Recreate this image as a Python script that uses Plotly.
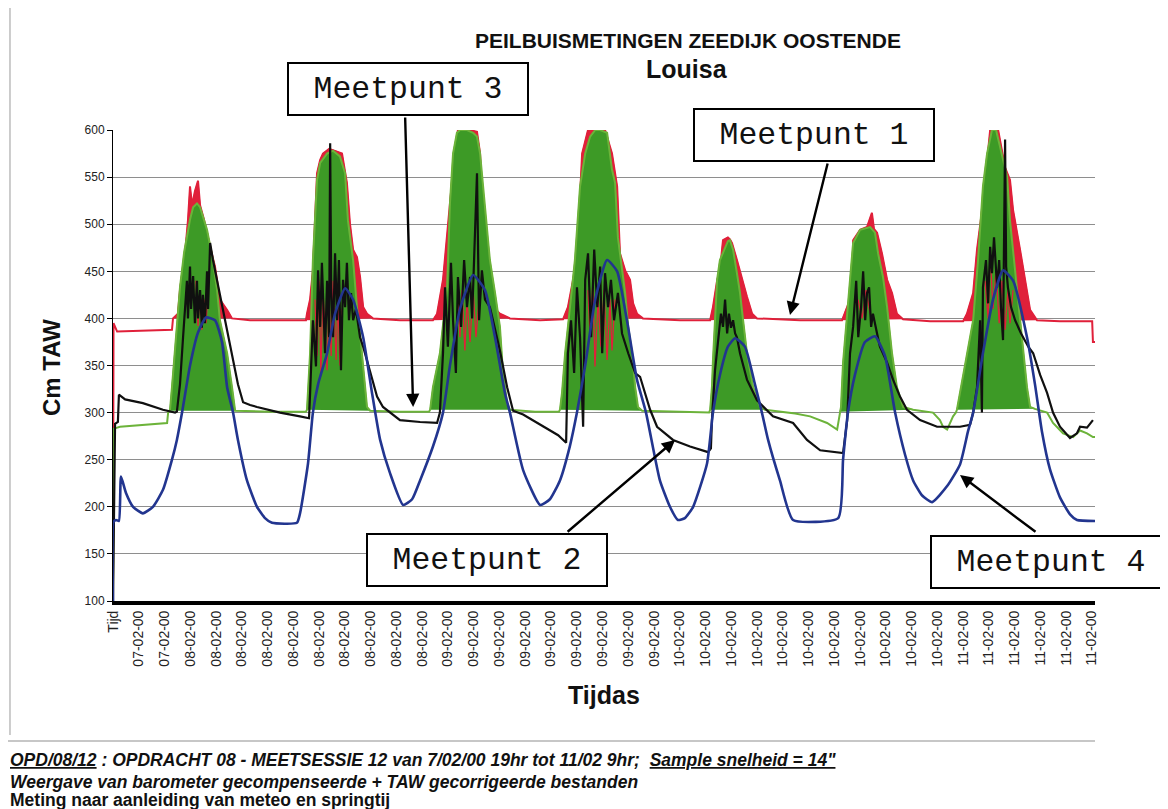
import plotly.graph_objects as go

# ---------------- data ----------------
# x = measurement index: 10 units between two consecutive date labels
TICK_LABELS = (["Tijd"] + ["07-02-00"] * 2 + ["08-02-00"] * 10 + ["09-02-00"] * 9
               + ["10-02-00"] * 11 + ["11-02-00"] * 6)
TICK_STEP = 10
X_MAX = 381.2
Y_TICKS = [100, 150, 200, 250, 300, 350, 400, 450, 500, 550, 600]

# Meetpunt 1 (red)
M1_X = [0.0, 0.2, 1.6, 10.5, 22.9, 23.3, 25.2, 26.0, 26.8, 28.0, 29.1, 29.9, 30.7, 31.8, 33.0, 33.8, 35.3, 36.5,
        37.7, 39.6, 41.5, 44.3, 46.2, 53.2, 64.8, 74.9, 75.3, 76.5, 77.6, 79.2, 80.4, 81.5, 83.9, 86.2, 88.9, 90.8,
        92.0, 93.2, 94.7, 95.9, 97.1, 98.6, 100.9, 111.4, 124.2, 125.8, 128.1, 130.8, 132.8, 133.9, 138.6, 141.3,
        142.5, 143.6, 145.6, 147.5, 150.2, 154.1, 165.8, 174.7, 176.6, 178.6, 180.1, 182.1, 184.4, 191.0, 193.7,
        195.7, 196.8, 198.8, 200.7, 201.9, 203.4, 205.7, 220.1, 231.8, 232.9, 234.5, 235.6, 236.8, 238.7, 239.5,
        240.3, 242.2, 244.6, 246.1, 248.1, 250.0, 266.7, 283.0, 285.0, 286.9, 287.3, 290.0, 292.7, 294.6, 295.4,
        296.6, 298.5, 300.5, 302.4, 304.3, 306.7, 317.2, 330.0, 331.5, 333.9, 335.4, 337.7, 339.7, 340.5, 343.6,
        344.3, 346.3, 348.2, 349.4, 352.1, 354.0, 356.0, 358.7, 367.6, 380.1, 380.4, 381.2]
M1_Y = [100, 395, 386, 387, 388, 400, 405, 430, 448, 470, 504, 540, 520, 535, 546, 520, 505, 490, 476, 455, 420, 409,
        400, 398, 398, 398, 405, 420, 451, 554, 568, 575, 580, 578, 575, 544, 500, 473, 465, 444, 412, 405, 400, 398,
        398, 405, 441, 522, 580, 600, 600, 598, 575, 500, 441, 412, 405, 400, 398, 399, 412, 441, 462, 575, 600, 600,
        575, 540, 469, 451, 441, 416, 405, 400, 398, 398, 412, 440, 451, 483, 486, 484, 480, 462, 437, 423, 405, 400,
        398, 398, 412, 427, 483, 494, 497, 512, 495, 491, 469, 441, 427, 405, 399, 397, 397, 405, 427, 473, 522, 580,
        600, 600, 590, 560, 547, 515, 473, 441, 409, 398, 397, 397, 375, 375]

# Meetpunt 1: low red spikes visible inside the green bands (None = gap)
M1_DIP_X = [32.2, 33.0, 33.8, 34.5, 35.3, 36.1, 36.9, None,
            78.4, 79.2, 80.0, 80.7, 81.5, 82.3, 83.1, 83.9, 84.7, 85.4, 86.6, 87.3, 88.1, 88.9, None,
            133.9, 134.7, 135.5, 136.6, 137.4, 138.6, 139.8, 140.9, 142.1, None,
            184.4, 185.2, 186.3, 187.1, 188.3, 189.4, 190.6, 191.8, 192.9, 193.7, 194.9, None,
            289.2, 290.8, 292.3, 293.9, None,
            338.5, 339.7, 340.5, 341.6, 342.8, 344.0, 345.1, 346.3, 347.4, 348.2, 349.4]
M1_DIP_Y = [440, 392, 430, 388, 420, 395, 430, None,
            420, 360, 440, 340, 430, 385, 345, 420, 360, 440, 356, 420, 350, 410, None,
            420, 380, 430, 366, 420, 375, 430, 380, 420, None,
            430, 380, 440, 349, 420, 370, 430, 356, 420, 366, 420, None,
            420, 400, 430, 405, None,
            440, 400, 470, 410, 450, 395, 440, 388, 430, 395, 430]

# Meetpunt 2 (black)
M2_X = [0.0, 0.8, 1.9, 2.3, 4.7, 11.6, 19.4, 24.1, 24.8,
        26.0, 27.2, 28.0, 28.7, 29.1, 29.9, 30.3, 31.1, 31.8, 32.6, 33.0, 33.8, 34.5, 34.9, 35.7, 36.5, 36.9, 37.7,
        38.8, 40.4, 41.5, 42.7, 44.6, 46.6, 48.5, 50.5, 53.2, 55.9, 64.8, 72.6, 76.1,
        76.5, 77.6, 78.8, 79.6, 80.4, 81.1, 82.3, 83.1, 83.9, 84.3, 84.7, 85.4, 86.2, 87.0, 87.7, 88.5, 89.3, 90.1,
        90.8, 91.6, 92.4, 93.2, 94.3, 95.9, 97.1, 99.8, 102.5, 104.8, 111.4, 119.2, 125.8,
        126.9, 128.1, 128.9, 130.0, 131.2, 132.0, 133.1, 133.9, 135.1, 136.3, 137.4, 138.6, 139.4, 140.1, 141.3,
        142.1, 143.2, 144.4, 146.3, 147.5, 150.2, 153.0, 155.3, 159.2, 163.0, 168.5, 172.8, 175.9,
        176.2, 176.6, 177.8, 179.0, 180.1, 181.3, 182.5, 183.3, 184.4, 185.6, 186.8, 188.0, 189.1, 189.9, 191.0,
        192.2, 193.3, 194.5, 196.0, 197.6, 200.0, 202.7, 204.6, 208.5, 211.2, 217.4, 224.0, 231.0, 232.1,
        232.5, 233.7, 234.9, 236.0, 236.8, 237.6, 238.4, 239.1, 239.9, 240.7, 241.5, 242.2, 243.4, 246.1, 250.0,
        256.2, 264.0, 269.4, 274.5, 283.4,
        285.0, 286.1, 287.3, 288.5, 289.3, 290.4, 291.2, 292.0, 292.7, 293.5, 294.3, 295.0, 296.6, 297.7, 300.5,
        302.8, 305.5, 308.2, 313.3, 319.9, 328.8, 332.7,
        333.9, 335.4, 336.6, 337.3, 337.7, 338.9, 339.7, 340.5, 341.2, 342.0, 343.2, 344.0, 344.7, 345.5, 346.3,
        346.7, 347.4, 348.6, 350.2, 352.5, 355.3, 357.2, 359.9, 362.6, 364.9, 367.6, 371.5, 374.2, 375.4, 378.1, 380.4]
M2_Y = [100, 288, 290, 319, 314, 310, 303, 300, 301,
        330, 380, 410, 440, 400, 455, 410, 445, 395, 440, 400, 430, 390, 425, 395, 450, 410, 480,
        462, 440, 425, 406, 380, 356, 330, 311, 308, 306, 300, 296, 294,
        320, 398, 349, 451, 391, 459, 363, 440, 380, 586, 433, 380, 469, 398, 462, 345, 441, 412,
        459, 398, 427, 398, 410, 380, 370, 342, 317, 306, 292, 290, 289,
        300, 363, 433, 370, 459, 398, 342, 444, 391, 462, 412, 444, 400, 450, 554,
        398, 451, 420, 412, 398, 366, 327, 302, 298, 292, 283, 276, 268,
        300, 363, 398, 342, 433, 380, 285, 441, 469, 380, 473, 412, 455, 363, 448,
        412, 441, 398, 427, 384, 363, 342, 338, 303, 285, 271, 264, 258, 262,
        292, 345, 380, 405, 391, 420, 384, 405, 390, 398, 384, 380, 363, 335, 313,
        296, 289, 271, 260, 257,
        292, 363, 391, 440, 380, 412, 450, 398, 427, 433, 391, 405, 384, 370, 353,
        335, 317, 303, 292, 285, 285, 287,
        300, 327, 398, 300, 433, 462, 416, 476, 448, 486, 433, 462, 412, 377, 590,
        455, 433, 412, 398, 384, 370, 363, 340, 321, 300, 285, 273, 278, 285, 284, 292]

# Meetpunt 3 (green) - base level plus upper edge of the dense tidal band
M3_X = [0.0, 0.4, 2.7, 10.5, 21.0, 21.4, 22.1, 22.9, 24.5, 26.0, 27.6, 28.7, 29.9, 31.1, 32.6, 33.8, 35.3, 36.5,
        38.8, 40.4, 41.5, 44.3, 46.2, 47.4, 60.9, 74.9, 75.3, 76.5, 77.6, 79.2, 80.4, 83.1, 85.4, 88.1, 90.1, 91.2,
        93.2, 94.7, 95.9, 97.1, 98.6, 99.8, 111.4, 122.7, 123.1, 124.2, 126.9, 129.7, 130.8, 132.0, 133.5, 134.7,
        137.4, 139.8, 141.3, 142.5, 143.6, 145.2, 146.3, 148.3, 150.2, 151.4, 153.0, 154.1, 163.8, 173.1, 173.5,
        174.3, 175.5, 177.4, 179.3, 181.3, 183.3, 185.2, 187.2, 189.1, 191.8, 193.7, 194.9, 196.0, 197.6, 198.8,
        200.0, 201.5, 202.7, 203.8, 205.4, 220.1, 231.4, 231.8, 232.5, 232.9, 234.5, 235.6, 237.6, 238.7, 239.5,
        240.7, 242.2, 243.4, 244.6, 246.1, 248.5, 251.2, 253.1, 258.9, 264.8, 270.6, 277.2, 281.1, 282.2, 282.6,
        283.4, 286.1, 287.3, 290.0, 293.9, 295.8, 297.0, 298.9, 300.5, 302.4, 304.3, 306.7, 310.6, 318.3, 321.0,
        322.2, 323.8, 326.1, 327.2, 327.6, 328.8, 331.5, 333.9, 335.8, 337.7, 339.3, 341.2, 342.8, 345.1, 347.1,
        348.2, 350.2, 352.1, 353.3, 354.8, 356.0, 357.9, 362.6, 364.9, 368.8, 372.7, 375.4, 378.1, 380.4, 381.2]
M3_Y = [100, 283, 285, 287, 289, 300, 302, 327, 380, 433, 470, 486, 505, 518, 522, 518, 505, 494, 462, 430, 398, 363,
        327, 302, 301, 301, 303, 363, 462, 547, 565, 575, 578, 572, 554, 504, 462, 412, 384, 348, 306, 302, 301, 301,
        303, 327, 363, 433, 522, 575, 597, 600, 600, 597, 593, 575, 540, 490, 462, 427, 391, 342, 310, 303, 301, 301,
        303, 321, 363, 412, 462, 540, 575, 593, 600, 600, 597, 558, 544, 486, 451, 427, 391, 363, 327, 306, 302, 301,
        300, 303, 327, 356, 441, 462, 476, 482, 483, 473, 448, 427, 398, 363, 327, 306, 303, 301, 299, 296, 289, 282,
        301, 306, 353, 441, 480, 494, 497, 491, 469, 444, 412, 363, 327, 306, 303, 300, 292, 285, 282, 296, 300, 303,
        321, 363, 398, 462, 540, 575, 600, 600, 575, 550, 504, 451, 398, 363, 327, 306, 304, 300, 289, 278, 274, 281,
        278, 274, 274]

# Meetpunt 4 (blue)
M4_X = [0.0, 0.2, 1.2, 2.3, 3.1, 5.0, 7.8, 11.6, 15.5, 19.4, 22.9, 24.8, 26.8, 29.9, 33.0, 36.1, 39.6, 42.3, 44.3,
        46.6, 48.5, 52.0, 55.9, 59.0, 61.7, 71.4, 72.6, 75.7, 77.6, 79.6, 83.1, 86.2, 90.1, 93.2, 97.1, 100.6, 103.7,
        107.5, 112.6, 116.1, 119.2, 124.2, 128.1, 130.8, 134.7, 139.8, 144.4, 148.3, 152.2, 154.1, 159.2, 165.8,
        169.6, 173.5, 177.4, 180.1, 183.3, 187.2, 191.8, 195.7, 199.5, 203.4, 206.9, 212.3, 216.2, 219.3, 222.0,
        225.2, 230.6, 232.9, 235.6, 238.7, 241.5, 245.3, 249.2, 251.9, 254.3, 258.9, 264.0, 281.5, 283.4, 285.3,
        288.0, 291.9, 295.8, 299.7, 303.6, 307.5, 310.6, 314.1, 318.0, 323.8, 328.8, 331.9, 333.9, 337.7, 341.6,
        345.5, 349.4, 354.8, 357.9, 360.6, 363.7, 367.6, 371.5, 374.2, 381.2]
M4_Y = [100, 184, 186, 185, 232, 215, 200, 193, 200, 218, 250, 271, 300, 350, 385, 401, 398, 375, 327, 300, 271, 228,
        200, 188, 183, 183, 193, 246, 300, 330, 363, 405, 432, 420, 380, 320, 271, 236, 202, 208, 228, 264, 300, 350,
        410, 446, 430, 380, 320, 300, 239, 202, 208, 228, 265, 300, 350, 420, 462, 450, 398, 335, 300, 228, 200, 186,
        188, 200, 246, 300, 340, 370, 379, 370, 330, 300, 271, 228, 186, 188, 250, 300, 340, 375, 381, 360, 300, 255,
        228, 212, 205, 222, 245, 280, 300, 363, 420, 451, 440, 380, 330, 280, 240, 210, 192, 186, 185]

RED_LEVEL = 402     # plateau of Meetpunt 1 above which its tide band is filled
GREEN_LEVEL = 304   # base of Meetpunt 3 above which its tide band is filled

RED = "#e0203a"
GREEN_FILL = "#3d9a26"
GREEN_LINE = "#6cb33a"
BLACK = "#101010"
BLUE = "#22358f"


def runs_above(xs, ys, level):
    """Contiguous stretches above a level, with one neighbour point on each side."""
    out, i, n = [], 0, len(ys)
    while i < n:
        if ys[i] > level:
            j = i
            while j + 1 < n and ys[j + 1] > level:
                j += 1
            a, b = max(i - 1, 0), min(j + 1, n - 1)
            out.append((xs[a:b + 1], ys[a:b + 1]))
            i = j + 1
        else:
            i += 1
    return out


fig = go.Figure()

for xs, ys in runs_above(M1_X, M1_Y, RED_LEVEL):
    fig.add_trace(go.Scatter(x=xs, y=ys, mode="lines", fill="toself", fillcolor=RED,
                             line=dict(color=RED, width=1), hoverinfo="skip"))
fig.add_trace(go.Scatter(x=M1_X, y=M1_Y, mode="lines", name="Meetpunt 1",
                         line=dict(color=RED, width=2)))

for xs, ys in runs_above(M3_X, M3_Y, GREEN_LEVEL):
    fig.add_trace(go.Scatter(x=xs, y=ys, mode="lines", fill="toself", fillcolor=GREEN_FILL,
                             line=dict(color=GREEN_FILL, width=1), hoverinfo="skip"))
fig.add_trace(go.Scatter(x=M3_X, y=M3_Y, mode="lines", name="Meetpunt 3",
                         line=dict(color=GREEN_LINE, width=2)))

fig.add_trace(go.Scatter(x=M1_DIP_X, y=M1_DIP_Y, mode="lines", connectgaps=False,
                         line=dict(color=RED, width=1.3), hoverinfo="skip"))

fig.add_trace(go.Scatter(x=M2_X, y=M2_Y, mode="lines", name="Meetpunt 2",
                         line=dict(color=BLACK, width=2.2)))
fig.add_trace(go.Scatter(x=M4_X, y=M4_Y, mode="lines", name="Meetpunt 4",
                         line=dict(color=BLUE, width=2.6, shape="spline", smoothing=0.5)))

ARIAL = "Liberation Sans, Arial, sans-serif"
MONO = "Liberation Mono, Courier New, monospace"
NARROW = "Liberation Sans Narrow, Arial Narrow, Liberation Sans, Arial, sans-serif"


def centered(**kw):
    d = dict(xref="paper", yref="paper", xanchor="center", yanchor="middle", showarrow=False)
    d.update(kw)
    return d


def footer(text, y):
    return dict(text=text, xref="paper", yref="paper", x=-0.1069, y=y, xanchor="left", yanchor="middle",
                align="left", showarrow=False, font=dict(family=NARROW, size=17.5, color="#111"))


annotations = [
    centered(text="<b>PEILBUISMETINGEN ZEEDIJK OOSTENDE</b>", x=0.5855, y=1.191,
             font=dict(family=ARIAL, size=21, color="#111")),
    centered(text="<b>Louisa</b>", x=0.5845, y=1.1295, font=dict(family=ARIAL, size=25, color="#111")),
    centered(text="<b>Cm TAW</b>", x=-0.0621, y=0.4947, textangle=-90,
             font=dict(family=ARIAL, size=24, color="#111")),
    centered(text="<b>Tijdas</b>", x=0.5, y=-0.1996, font=dict(family=ARIAL, size=25, color="#111")),
    footer("<b><i><u>OPD/08/12</u> : OPDRACHT 08 - MEETSESSIE 12 van 7/02/00 19hr tot 11/02 9hr;  "
           "<u>Sample snelheid = 14\"</u></i></b>", -0.3376),
    footer("<b><i>Weergave van barometer gecompenseerde + TAW gecorrigeerde bestanden</i></b>", -0.3843),
    footer("<b>Meting naar aanleiding van meteo en springtij</b>", -0.4225),
]

# labelled boxes
for label, bx, by in [("Meetpunt 3", 0.3004, 1.0870), ("Meetpunt 1", 0.7138, 0.9894),
                      ("Meetpunt 2", 0.3809, 0.0870), ("Meetpunt 4", 0.9552, 0.0828)]:
    annotations.append(centered(text=label, x=bx, y=by, width=238, height=50, borderpad=0, borderwidth=2,
                                bordercolor="black", bgcolor="white",
                                font=dict(family=MONO, size=31.5, color="#111")))

# arrows pointing at the curves
for hx, hy, ax, ay in [(116.5, 306, -8, -291), (262.8, 403.6, 38, -153),
                       (218.2, 270.9, -109, 93), (328.8, 233.8, 77, 58)]:
    annotations.append(dict(text="", x=hx, y=hy, xref="x", yref="y", ax=ax, ay=ay, showarrow=True,
                            arrowhead=2, arrowsize=1.1, arrowwidth=2.4, arrowcolor="black", standoff=0))

# the page adds an 8px body margin, so the figure is drawn 8px smaller and offset
fig.update_layout(
    width=1160, height=801,
    margin=dict(l=105, r=73, t=122, b=208),
    paper_bgcolor="white", plot_bgcolor="white",
    showlegend=False,
    font=dict(family=ARIAL, color="#222"),
    annotations=annotations,
    shapes=[
        dict(type="line", xref="paper", yref="paper", x0=-0.1151, x1=1.0, y0=-0.2972, y1=-0.2972,
             line=dict(color="#b5b5b5", width=1.5)),
        dict(type="line", xref="paper", yref="paper", x0=-0.1049, x1=-0.1049, y0=-0.2845, y1=1.276,
             line=dict(color="#9a9a9a", width=1)),
    ],
    xaxis=dict(range=[0, X_MAX], tickmode="array",
               tickvals=[i * TICK_STEP for i in range(len(TICK_LABELS))], ticktext=TICK_LABELS,
               tickangle=-90, tickfont=dict(size=14, color="#222"), showgrid=False, zeroline=False,
               showline=True, linewidth=4, linecolor="black", ticks=""),
    yaxis=dict(range=[100, 600], tickmode="array", tickvals=Y_TICKS, tickfont=dict(size=12, color="#222"),
               showgrid=True, gridcolor="#8e8e8e", gridwidth=1, zeroline=False, showline=True,
               linewidth=1, linecolor="black", ticks="outside", ticklen=5, tickcolor="black"),
)

fig.write_html("out.html")
